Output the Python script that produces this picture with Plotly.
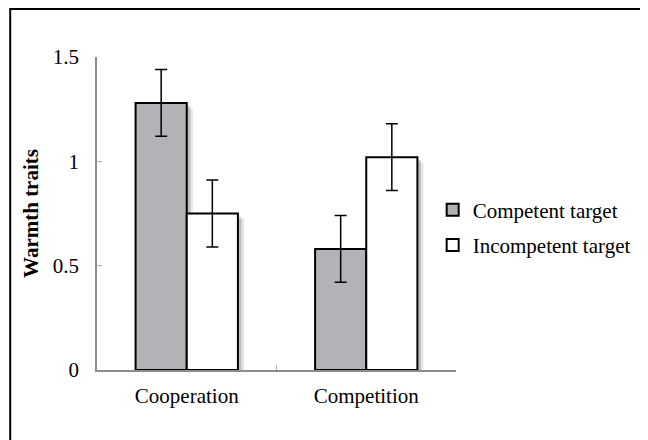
import plotly.graph_objects as go

categories = ["Cooperation", "Competition"]
competent = [1.28, 0.58]
competent_err = [0.16, 0.16]
incompetent = [0.75, 1.02]
incompetent_err = [0.16, 0.16]
y_ticks = [0, 0.5, 1, 1.5]
y_tick_labels = ["0", "0.5", "1", "1.5"]

FONT = "Liberation Serif, Times New Roman, serif"
BW = 0.285  # bar width in category units

fig = go.Figure()

# soft drop shadows (drawn first, under the bars)
for series, off in ((competent, -BW), (incompetent, 0.0)):
    for dx, dy, alpha in ((0.034, 0.026, 0.10), (0.02, 0.014, 0.16)):
        fig.add_trace(go.Bar(
            x=categories, y=[v - dy for v in series], width=BW, offset=off + dx,
            marker=dict(color=f"rgba(0,0,0,{alpha})", line=dict(width=0)),
            showlegend=False, hoverinfo="skip",
        ))

fig.add_trace(go.Bar(
    x=categories, y=competent, name="Competent target", width=BW, offset=-BW,
    legendgroup="a",
    marker=dict(color="#b1b3b6", line=dict(color="black", width=2)),
    error_y=dict(type="data", array=competent_err, color="black", thickness=1.5, width=6),
))
fig.add_trace(go.Bar(
    x=categories, y=incompetent, name="Incompetent target", width=BW, offset=0,
    legendgroup="b",
    marker=dict(color="white", line=dict(color="black", width=2)),
    error_y=dict(type="data", array=incompetent_err, color="black", thickness=1.5, width=6),
))

W, H = 640, 432
l, r, t, b = 89, 187, 49, 70
pw, ph = W - l - r, H - t - b

fig.update_layout(
    width=W, height=H,
    margin=dict(l=l, r=r, t=t, b=b),
    paper_bgcolor="white", plot_bgcolor="white",
    barmode="overlay",
    font=dict(family=FONT, size=21, color="black"),
    showlegend=True,
    legend=dict(x=0.935, y=0.455, xanchor="left", yanchor="middle",
                font=dict(family=FONT, size=21), traceorder="grouped", tracegroupgap=5,
                itemwidth=30, bgcolor="rgba(0,0,0,0)"),
    xaxis=dict(showline=True, linecolor="#8c8c8c", linewidth=1.5,
               ticks="inside", tickson="boundaries", ticklen=5, tickcolor="#b0b0b0",
               showgrid=False, ticklabelstandoff=6,
               tickfont=dict(family=FONT, size=21)),
    yaxis=dict(range=[0, 1.5], tickvals=y_ticks, ticktext=y_tick_labels,
               showline=True, linecolor="#8c8c8c", linewidth=1.5,
               ticks="inside", ticklen=5, tickcolor="#b0b0b0",
               showgrid=False, zeroline=False, ticklabelstandoff=12,
               tickfont=dict(family=FONT, size=21),
               title=dict(text="<b>Warmth traits</b>", font=dict(family=FONT, size=21), standoff=8)),
)

# outer figure frame
fig.add_shape(type="rect", xref="paper", yref="paper",
              x0=(1 - l) / pw, x1=(W + 60 - l) / pw,
              y0=-(b + 60) / ph, y1=1 + (t - 1) / ph,
              line=dict(color="black", width=2), fillcolor="rgba(0,0,0,0)", layer="below")

fig.write_html("out.html")
